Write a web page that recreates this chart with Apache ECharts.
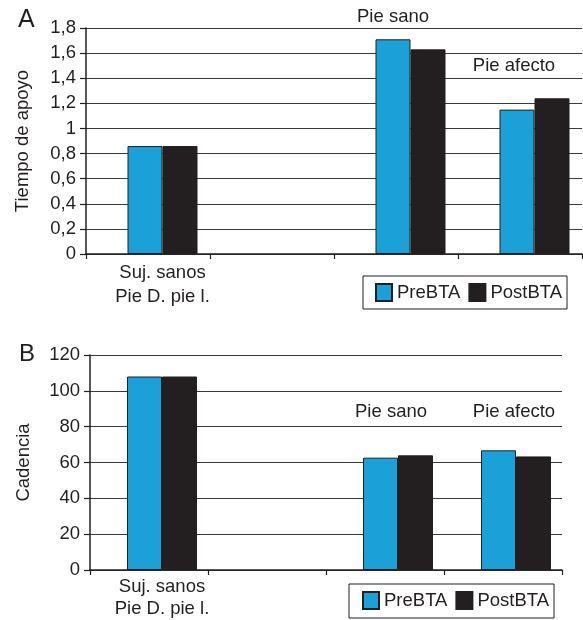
<!DOCTYPE html>
<html>
<head>
<meta charset="utf-8">
<script src="https://cdn.jsdelivr.net/npm/echarts@6/dist/echarts.min.js"></script>
<style>html,body{margin:0;padding:0;background:#fff}#c{width:583px;height:620px}</style>
</head>
<body>
<div id="c"></div>
<script>
// Data
var categories = ['Suj. sanos\nPie D. pie l.', '', 'Pie sano', 'Pie afecto'];
var seriesNames = ['PreBTA', 'PostBTA'];
var apoyoPre  = [0.86, null, 1.71, 1.15];
var apoyoPost = [0.86, null, 1.63, 1.24];
var cadenciaPre  = [108, null, 62.7, 66.8];
var cadenciaPost = [108, null, 64.0, 63.4];
var apoyoTicks = { min: 0, max: 1.8, interval: 0.2 };
var cadenciaTicks = { min: 0, max: 120, interval: 20 };

var FONT = 'Liberation Sans, Arial, Helvetica, sans-serif';
var FS = 18.5;
var INK = '#231f20';
var BLUE = '#1ca0d8';

var chart = echarts.init(document.getElementById('c'), null, { renderer: 'canvas' });

function visX(grid) {
  return {
    type: 'category', gridIndex: grid, data: categories, boundaryGap: true,
    axisLine: { show: true, lineStyle: { color: INK, width: 1.5 } },
    axisTick: { show: true, interval: 0, length: 5, lineStyle: { color: INK, width: 1.2 } },
    axisLabel: { show: false }
  };
}
function visY(grid, t, name, gap, comma) {
  return {
    type: 'value', gridIndex: grid, min: t.min, max: t.max, interval: t.interval,
    name: name, nameLocation: 'middle', nameGap: gap, nameRotate: 90,
    nameTextStyle: { fontSize: FS, fontFamily: FONT, color: INK },
    axisLine: { show: true, lineStyle: { color: INK, width: 1.5 } },
    axisTick: { show: true, length: 6, lineStyle: { color: INK, width: 1.2 } },
    axisLabel: {
      margin: 10, fontSize: FS, fontFamily: FONT, color: INK,
      formatter: function (v) {
        var s = String(Math.round(v * 10) / 10);
        return comma ? s.replace('.', ',') : s;
      }
    },
    splitLine: { show: true, lineStyle: { color: '#3a3a3a', width: 1 } }
  };
}
// bar axis: carries the bars and the first category's label (centred on its bars)
function barX(grid, lh, margin) {
  return {
    type: 'category', gridIndex: grid, data: categories, boundaryGap: true,
    axisLine: { show: false }, axisTick: { show: false }, splitLine: { show: false },
    axisLabel: {
      interval: 0, margin: margin, fontSize: FS, fontFamily: FONT, color: INK, lineHeight: lh,
      formatter: function (v, i) { return i === 0 ? v : ''; }
    }
  };
}
function hidY(grid, t) {
  return { type: 'value', gridIndex: grid, min: t.min, max: t.max, interval: t.interval, show: false, splitLine: { show: false } };
}
function bar(name, data, xi, color) {
  return {
    type: 'bar', name: name, data: data, xAxisIndex: xi, yAxisIndex: xi,
    barWidth: 35, barGap: '0%',
    itemStyle: { color: color, borderColor: INK, borderWidth: 1 },
    emphasis: { disabled: true }
  };
}
function legend(left, top, padding) {
  return {
    left: left, top: top, orient: 'horizontal', data: seriesNames,
    icon: 'rect', itemWidth: 16, itemHeight: 17, itemGap: 8,
    padding: padding, borderColor: INK, borderWidth: 1, backgroundColor: '#fff',
    textStyle: { fontSize: FS, fontFamily: FONT, color: INK },
    selectedMode: false
  };
}
function grid(l, t, w, h) {
  return { left: l, top: t, width: w, height: h, outerBoundsMode: 'none', containLabel: false };
}

var option = {
  animation: false,
  backgroundColor: '#fff',
  grid: [
    grid(86, 28, 496, 226),
    grid(100.5, 28, 496, 226),
    grid(90, 355, 472, 215),
    grid(103, 355, 472, 215)
  ],
  xAxis: [visX(0), barX(1, 24, 7), visX(2), barX(3, 22, 6)],
  yAxis: [
    visY(0, apoyoTicks, 'Tiempo de apoyo', 54, true),
    hidY(1, apoyoTicks),
    visY(2, cadenciaTicks, 'Cadencia', 57, false),
    hidY(3, cadenciaTicks)
  ],
  legend: [legend(363, 276, [7, 5, 7, 12]), legend(349, 584, [7, 5, 8, 13])],
  series: [
    bar(seriesNames[0], apoyoPre, 1, BLUE),
    bar(seriesNames[1], apoyoPost, 1, INK),
    bar(seriesNames[0], cadenciaPre, 3, BLUE),
    bar(seriesNames[1], cadenciaPost, 3, INK)
  ],
  graphic: [
    { type: 'text', left: 18, top: 8, style: { text: 'A', font: '25px ' + FONT, fill: INK } },
    { type: 'text', left: 19, top: 342, style: { text: 'B', font: '24px ' + FONT, fill: INK } },
    { type: 'text', x: 393, y: 17, style: { text: categories[2], font: FS + 'px ' + FONT, fill: INK, align: 'center', verticalAlign: 'middle' } },
    { type: 'text', x: 514, y: 66, style: { text: categories[3], font: FS + 'px ' + FONT, fill: INK, align: 'center', verticalAlign: 'middle' } },
    { type: 'text', x: 391, y: 412, style: { text: categories[2], font: FS + 'px ' + FONT, fill: INK, align: 'center', verticalAlign: 'middle' } },
    { type: 'text', x: 514, y: 412, style: { text: categories[3], font: FS + 'px ' + FONT, fill: INK, align: 'center', verticalAlign: 'middle' } }
  ]
};
chart.setOption(option);
</script>
</body>
</html>
